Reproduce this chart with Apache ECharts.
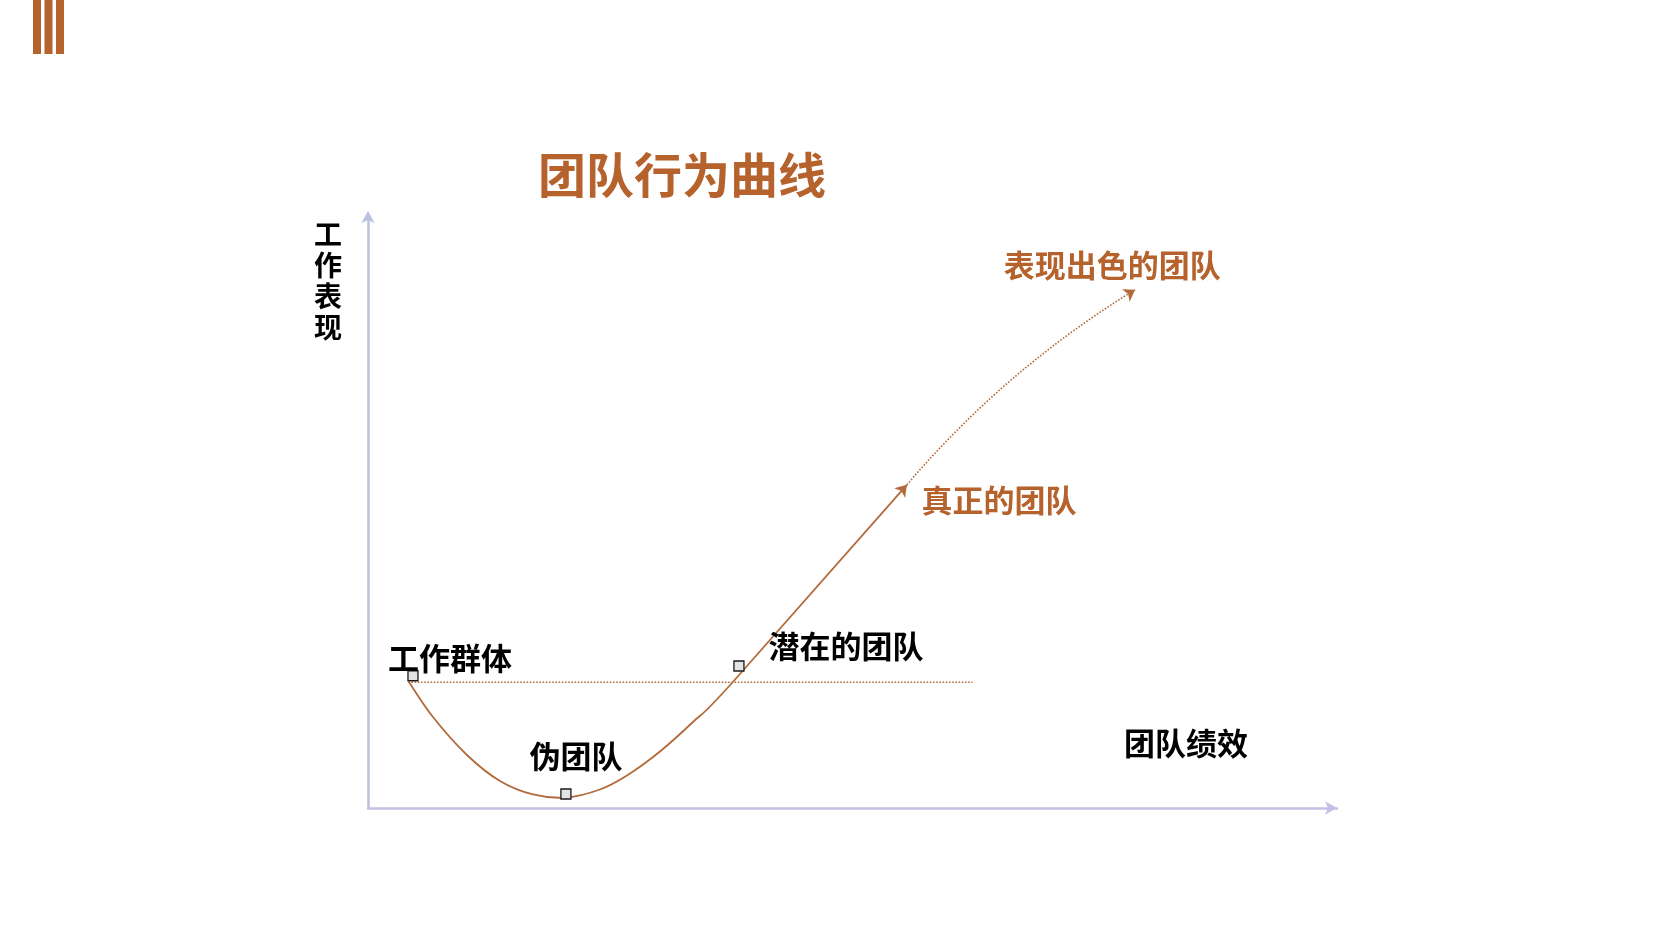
<!DOCTYPE html>
<html>
<head>
<meta charset="utf-8">
<script src="https://cdn.jsdelivr.net/npm/echarts@6/dist/echarts.min.js"></script>
<style>
html,body{margin:0;padding:0;background:#fff;}
#chart{width:1653px;height:929px;}
</style>
</head>
<body>
<div id="chart"></div>
<script>
// ---- data ----
const titleText = '团队行为曲线';
const xAxisName = '团队绩效';
const yAxisName = '工作表现';
// U-shaped part of the curve (团队绩效, 工作表现)
const curveX = [4.18, 6.63, 10.10, 13.47, 16.84, 20.20, 23.67, 26.43, 29.80, 33.16, 37.24];
const curveY = [21.25, 15.35, 8.94, 4.55, 2.28, 1.77, 3.12, 5.48, 9.53, 14.50, 21.25];
// straight rise to the real team, then dotted rise to the high-performing team
const riseStart = [37.24, 21.25];
const riseEnd = [55.0, 54.5];
const topEnd = [78.3, 87.4];
// dotted reference level of the working group
const levelX = [4.1, 61.7];
const levelY = 21.2;
// milestone points (squares)
const stageNames = ['工作群体', '伪团队', '潜在的团队'];
const stageX = [4.59, 20.2, 37.86];
const stageY = [22.3, 2.36, 23.95];
// arrow-tip labels
const tipNames = ['真正的团队', '表现出色的团队'];

// ---- chart ----
const brown = '#B5622D';
const lineBrown = '#B36A3A';
const font = '"Noto Sans CJK SC", "Noto Sans", sans-serif';
const chart = echarts.init(document.getElementById('chart'), null, {renderer: 'canvas'});

const labelOffsets = [[37, -18], [10, -38], [107, -20]];
const tipOffsets = [[92, 15], [-23, -24]];
const tipPts = [riseEnd, topEnd];

// smooth path through the curve points (Catmull-Rom drawn as cubic Béziers),
// positioned with the chart's own coordinate system
function renderCurve(params, api) {
  const pts = curveX.map((x, i) => api.coord([x, curveY[i]]));
  const next = api.coord(riseEnd); // end tangent continues into the straight rise
  const P = i => (i < 0 ? pts[0] : (i >= pts.length ? next : pts[i]));
  let d = 'M' + pts[0][0] + ' ' + pts[0][1];
  for (let i = 0; i < pts.length - 1; i++) {
    const p0 = P(i - 1), p1 = P(i), p2 = P(i + 1), p3 = P(i + 2);
    const c1 = [p1[0] + (p2[0] - p0[0]) / 6, p1[1] + (p2[1] - p0[1]) / 6];
    const c2 = [p2[0] - (p3[0] - p1[0]) / 6, p2[1] - (p3[1] - p1[1]) / 6];
    d += ' C' + c1[0] + ' ' + c1[1] + ' ' + c2[0] + ' ' + c2[1] + ' ' + p2[0] + ' ' + p2[1];
  }
  return {
    type: 'path',
    shape: {pathData: d},
    style: {stroke: lineBrown, fill: 'none', lineWidth: 1.8}
  };
}

chart.setOption({
  animation: false,
  backgroundColor: '#ffffff',
  title: {
    text: titleText,
    left: 538, top: 150, padding: 0,
    textStyle: {color: brown, fontSize: 48, fontWeight: 'bold', fontFamily: font, lineHeight: 50}
  },
  graphic: [
    {type: 'rect', left: 33, top: 0, shape: {width: 8, height: 54}, style: {fill: brown}},
    {type: 'rect', left: 44.5, top: 0, shape: {width: 8, height: 54}, style: {fill: brown}},
    {type: 'rect', left: 56, top: 0, shape: {width: 8, height: 54}, style: {fill: brown}},
    {type: 'text', x: 1186, y: 743,
      style: {text: xAxisName, fill: '#000', font: 'bold 31px ' + font,
        textAlign: 'center', textVerticalAlign: 'middle'}}
  ],
  grid: {left: 368, right: 316, top: 215, bottom: 121, containLabel: false},
  xAxis: {
    type: 'value', min: 0, max: 98.9,
    axisLine: {show: true, symbol: ['none', 'arrow'], symbolSize: [10, 12],
      lineStyle: {color: '#C3C1E6', width: 2.5}},
    axisTick: {show: false}, axisLabel: {show: false}, splitLine: {show: false}
  },
  yAxis: {
    type: 'value', min: 0, max: 100,
    name: yAxisName.split('').join('\n'), nameLocation: 'end', nameGap: -128,
    nameTextStyle: {color: '#000', fontSize: 28, fontWeight: 'bold', fontFamily: font,
      align: 'right', verticalAlign: 'bottom', lineHeight: 31, padding: [0, 26, 0, 0]},
    axisLine: {show: true, symbol: ['none', 'arrow'], symbolSize: [10, 12], symbolOffset: [0, 4],
      lineStyle: {color: '#BAC0DF', width: 2.5}},
    axisTick: {show: false}, axisLabel: {show: false}, splitLine: {show: false}
  },
  series: [
    {
      type: 'line', name: 'level', silent: true, symbol: 'none',
      data: levelX.map(x => [x, levelY]),
      lineStyle: {color: lineBrown, width: 1.6, type: 'dotted'}, z: 2
    },
    {
      type: 'custom', name: 'curve', silent: true, coordinateSystem: 'cartesian2d',
      renderItem: renderCurve, clip: false,
      data: [[curveX[0], curveY[0]]], z: 3
    },
    {
      type: 'lines', coordinateSystem: 'cartesian2d', silent: true,
      symbol: ['none', 'arrow'], symbolSize: 11,
      lineStyle: {color: lineBrown, width: 1.8, curveness: 0, opacity: 1},
      data: [{coords: [riseStart, riseEnd]}], z: 3
    },
    {
      type: 'lines', coordinateSystem: 'cartesian2d', silent: true,
      symbol: ['none', 'arrow'], symbolSize: 11,
      lineStyle: {color: lineBrown, width: 1.6, type: 'dotted', curveness: 0.08, opacity: 1},
      data: [{coords: [riseEnd, topEnd]}], z: 3
    },
    {
      type: 'scatter', name: 'stages', silent: true, symbol: 'rect', symbolSize: 10,
      itemStyle: {color: '#E4E4E4', borderColor: '#1a1a1a', borderWidth: 1.3, opacity: 1},
      data: stageNames.map((n, i) => ({
        name: n, value: [stageX[i], stageY[i]],
        label: {offset: labelOffsets[i]}
      })),
      label: {show: true, position: 'inside', formatter: '{b}', color: '#000', opacity: 1,
        fontSize: 31, fontWeight: 'bold', fontFamily: font, textBorderWidth: 0},
      z: 5
    },
    {
      type: 'scatter', name: 'tips', silent: true, symbol: 'circle', symbolSize: 1,
      itemStyle: {color: 'rgba(255,255,255,0)', opacity: 1},
      data: tipNames.map((n, i) => ({
        name: n, value: tipPts[i],
        label: {offset: tipOffsets[i]}
      })),
      label: {show: true, position: 'inside', formatter: '{b}', color: brown, opacity: 1,
        fontSize: 31, fontWeight: 'bold', fontFamily: font, textBorderWidth: 0},
      z: 5
    }
  ]
});
</script>
</body>
</html>
